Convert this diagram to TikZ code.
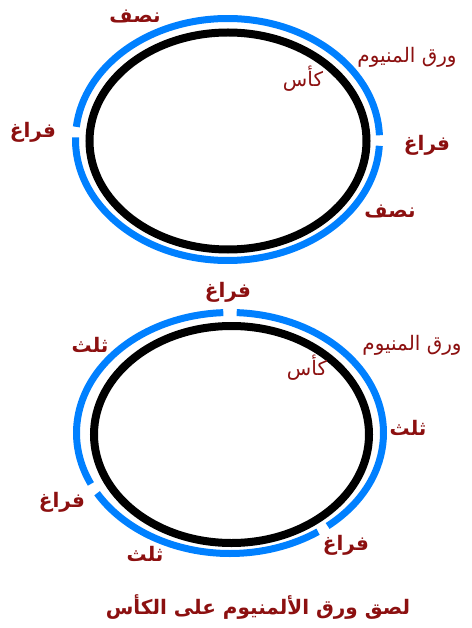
\documentclass[tikz,border=0pt]{standalone}
\usepackage{fontspec}
\usepackage{xcolor}
\usetikzlibrary{positioning}
\TeXXeTstate=1
\newfontfamily\arabicfont[Script=Arabic]{DejaVu Sans}
\definecolor{foilblue}{RGB}{0,128,255}
\definecolor{labelred}{RGB}{140,16,16}
\tikzset{
	foil/.style={draw=foilblue, line width=7pt},
	cup/.style={draw=black, line width=8pt},
	lbl/.style={text=labelred, inner sep=0pt, font=\arabicfont\bfseries\fontsize{20}{22}\selectfont},
	thinlbl/.style={text=labelred, inner sep=0pt, font=\arabicfont\fontsize{20}{22}\selectfont},
}
\begin{document}
\begin{tikzpicture}[x=1pt, y=-1pt]
	\useasboundingbox[fill=white] (0,0) rectangle (471,628);
	% top cup: two halves
	\draw[cup] (228,141) ellipse [x radius=138.5, y radius=108.5];
	\draw[foil] (227.5,139.5) ++(-2:152 and 121) arc[start angle=-2, end angle=-174, x radius=152, y radius=121];
	\draw[foil] (227.5,139.5) ++(-179:152 and 121) arc[start angle=-179, end angle=-357, x radius=152, y radius=121];
	\node[lbl] (halfA) at (135,17) {\beginR نصف\endR};
	\node[thinlbl] (foilA) at (407,57) {\beginR ورق المنيوم\endR};
	\node[thinlbl] (cupA) at (303,79) {\beginR كأس\endR};
	\node[lbl] (gapAl) at (33,132) {\beginR فراغ\endR};
	\node[lbl] (gapAr) at (427,145) {\beginR فراغ\endR};
	\node[lbl] (halfB) at (390,212) {\beginR نصف\endR};
	% bottom cup: three thirds
	\draw[cup] (231.5,434.5) ellipse [x radius=137.5, y radius=108.5];
	\draw[foil] (230,433) ++(-92.5:153.5 and 120.5) arc[start angle=-92.5, end angle=-205, x radius=153.5, y radius=120.5];
	\draw[foil] (230,433) ++(-210:153.5 and 120.5) arc[start angle=-210, end angle=-305, x radius=153.5, y radius=120.5];
	\draw[foil] (230,433) ++(-309.5:153.5 and 120.5) arc[start angle=-309.5, end angle=-447.5, x radius=153.5, y radius=120.5];
	\node[lbl] (gapBt) at (228,292) {\beginR فراغ\endR};
	\node[lbl] (thirdA) at (90,345) {\beginR ثلث\endR};
	\node[thinlbl] (foilB) at (412,345) {\beginR ورق المنيوم\endR};
	\node[thinlbl] (cupB) at (307,368) {\beginR كأس\endR};
	\node[lbl] (thirdB) at (408,428) {\beginR ثلث\endR};
	\node[lbl] (gapBl) at (62,502) {\beginR فراغ\endR};
	\node[lbl] (thirdC) at (145,554) {\beginR ثلث\endR};
	\node[lbl] (gapBr) at (346,545) {\beginR فراغ\endR};
	\node[lbl] (caption) at (258,607) {\beginR لصق ورق الألمنيوم على الكأس\endR};
\end{tikzpicture}
\end{document}
